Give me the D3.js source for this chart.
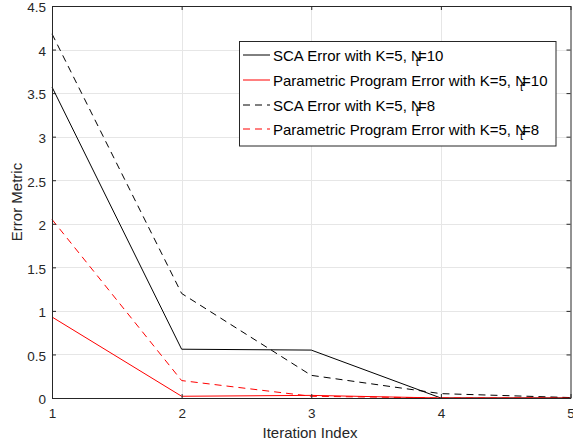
<!DOCTYPE html>
<html>
<head>
<meta charset="utf-8">
<script src="https://cdn.jsdelivr.net/npm/d3@7"></script>
<style>
  html, body { margin: 0; padding: 0; background: #fff; }
  svg { display: block; font-family: "Liberation Sans", Arial, Helvetica, sans-serif; }
</style>
</head>
<body>
<svg id="chart" width="573" height="446"></svg>
<script>
// Iteration indices and error values per method
const iterations = [1, 2, 3, 4, 5];
const scaNt10 = [3.57, 0.56, 0.55, 0.0, 0.0];
const ppNt10 = [0.93, 0.02, 0.03, 0.0, 0.0];
const scaNt8 = [4.18, 1.2, 0.26, 0.05, 0.005];
const ppNt8 = [2.05, 0.2, 0.02, 0.0, 0.0];
const xTicks = [1, 2, 3, 4, 5];
const yTicks = [0, 0.5, 1, 1.5, 2, 2.5, 3, 3.5, 4, 4.5];

const series = [
  { values: scaNt10, color: "#000000", dash: null, label: "SCA Error with K=5, N", sub: "t", tail: "=10" },
  { values: ppNt10, color: "#ff0000", dash: null, label: "Parametric Program Error with K=5, N", sub: "t", tail: "=10" },
  { values: scaNt8, color: "#000000", dash: "7,5", label: "SCA Error with K=5, N", sub: "t", tail: "=8" },
  { values: ppNt8, color: "#ff0000", dash: "7,5", label: "Parametric Program Error with K=5, N", sub: "t", tail: "=8" }
];

const svg = d3.select("#chart");
const m = { left: 52, right: 570.5, top: 6, bottom: 398 };

const x = d3.scaleLinear().domain([1, 5]).range([m.left, m.right]);
const y = d3.scaleLinear().domain([0, 4.5]).range([m.bottom, m.top]);

// grid
const grid = svg.append("g").attr("stroke", "#e6e6e6").attr("stroke-width", 1);
grid.selectAll("line.gx").data(xTicks.slice(1, -1)).join("line")
  .attr("x1", d => Math.round(x(d)) + 0.5).attr("x2", d => Math.round(x(d)) + 0.5)
  .attr("y1", m.top).attr("y2", m.bottom);
grid.selectAll("line.gy").data(yTicks.slice(1, -1)).join("line")
  .attr("y1", d => Math.round(y(d)) + 0.5).attr("y2", d => Math.round(y(d)) + 0.5)
  .attr("x1", m.left).attr("x2", m.right);

// data lines
const line = d3.line().x((d, i) => x(iterations[i])).y(d => y(d));
svg.append("g").selectAll("path").data(series).join("path")
  .attr("d", d => line(d.values))
  .attr("fill", "none")
  .attr("stroke", d => d.color)
  .attr("stroke-width", 1)
  .attr("stroke-dasharray", d => d.dash);

// axes box with inward ticks
const axisColor = "#262626";
const xAxisB = d3.axisBottom(x).tickValues(xTicks).tickSizeInner(-4).tickSizeOuter(0).tickPadding(10).tickFormat(d3.format("d"));
const xAxisT = d3.axisTop(x).tickValues(xTicks).tickSizeInner(-4).tickSizeOuter(0).tickFormat("");
const yAxisL = d3.axisLeft(y).tickValues(yTicks).tickSizeInner(-4).tickSizeOuter(0).tickPadding(6).tickFormat(d3.format("~g"));
const yAxisR = d3.axisRight(y).tickValues(yTicks).tickSizeInner(-4).tickSizeOuter(0).tickFormat("");

function styleAxis(g) {
  g.select(".domain").attr("stroke", axisColor);
  g.selectAll(".tick line").attr("stroke", axisColor);
  g.selectAll(".tick text").attr("fill", axisColor).attr("font-size", 13.5)
    .attr("font-family", "Liberation Sans, Arial, sans-serif");
}
svg.append("g").attr("transform", `translate(0,${m.bottom})`).call(xAxisB).call(styleAxis);
svg.append("g").attr("transform", `translate(0,${m.top})`).call(xAxisT).call(styleAxis);
svg.append("g").attr("transform", `translate(${m.left},0)`).call(yAxisL).call(styleAxis)
  .selectAll(".tick text").attr("dy", "0.43em");
svg.append("g").attr("transform", `translate(${m.right},0)`).call(yAxisR).call(styleAxis);

// axis titles
svg.append("text")
  .attr("x", 310).attr("y", 438)
  .attr("text-anchor", "middle").attr("font-size", 15).attr("fill", axisColor)
  .text("Iteration Index");
svg.append("text")
  .attr("transform", `translate(22,202) rotate(-90)`)
  .attr("text-anchor", "middle").attr("font-size", 15).attr("fill", axisColor)
  .text("Error Metric");

// legend
const lg = svg.append("g");
const lx = 239.5, ly = 41.5, lw = 316.5, lh = 104.5;
lg.append("rect").attr("x", lx).attr("y", ly).attr("width", lw).attr("height", lh)
  .attr("fill", "#fff").attr("stroke", axisColor).attr("stroke-width", 1);
const rowY = [55, 80, 105, 129];
series.forEach((s, i) => {
  const ry = rowY[i];
  lg.append("line").attr("x1", 243).attr("x2", 270).attr("y1", ry).attr("y2", ry)
    .attr("stroke", s.color).attr("stroke-width", 1).attr("stroke-dasharray", s.dash);
  const t = lg.append("text").attr("x", 273).attr("y", ry + 5.5)
    .attr("font-size", 15).attr("fill", "#000");
  t.append("tspan").text(s.label);
  t.append("tspan").attr("dx", -6).attr("dy", 5).attr("font-size", 11).text(s.sub);
  t.append("tspan").attr("dx", -1).attr("dy", -5).text(s.tail);
});
</script>
</body>
</html>
